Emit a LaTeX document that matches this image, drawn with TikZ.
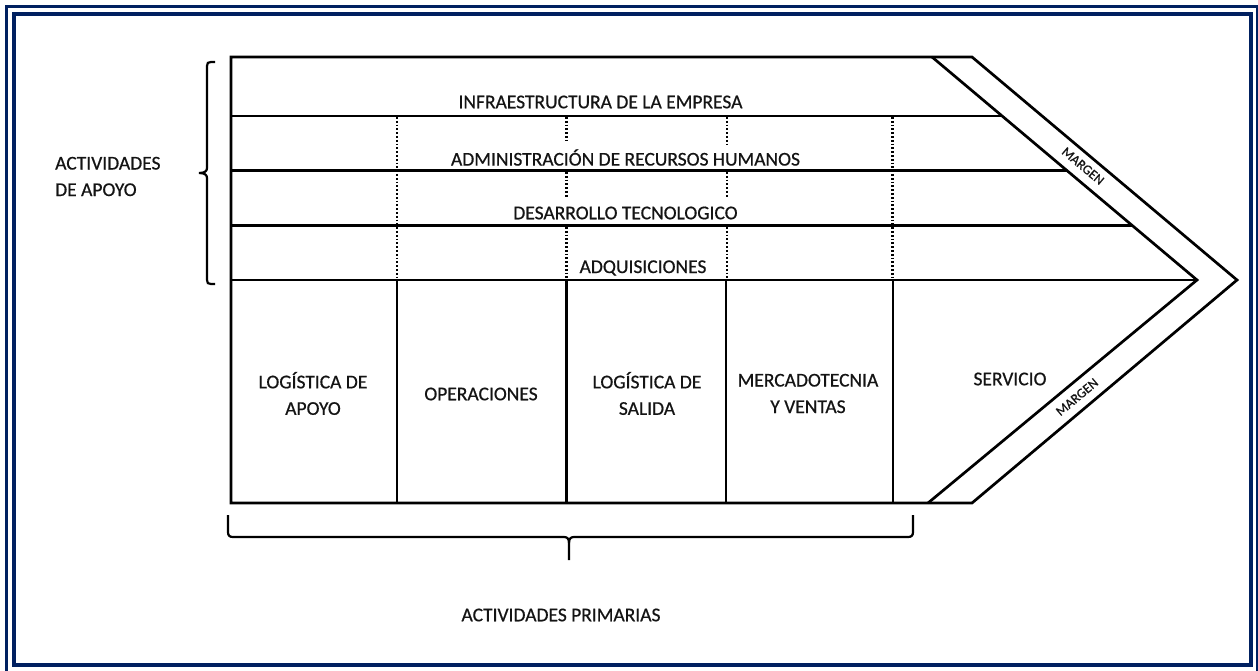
\documentclass[tikz,border=0pt]{standalone}
\usepackage{fontspec}
\setmainfont[FakeBold=0.6]{Carlito}
\newfontfamily\heavyfont[FakeBold=0.6]{Carlito}
\usetikzlibrary{calc}
\definecolor{navy}{RGB}{0,32,96}
\definecolor{ink}{RGB}{20,20,20}
\tikzset{
  frameline/.style={draw=navy},
  mainline/.style={draw=black,line width=2.7pt},
  dotline/.style={draw=black,line width=2.3pt,dash pattern=on 1.8pt off 2pt},
  lbl/.style={inner sep=0pt,text=ink,font=\heavyfont\fontsize{19.5}{26.5}\selectfont,align=center},
  mlbl/.style={inner sep=0pt,text=ink,font=\heavyfont\fontsize{13.5}{15}\selectfont},
}
\begin{document}
\begin{tikzpicture}[x=1pt,y=-1pt,line join=miter]
\useasboundingbox (0,0) rectangle (1258,671);
\fill[white] (0,0) rectangle (1258,671);
% frame
\draw[frameline,line width=3.4pt] (6.6,6.6) rectangle (1257.5,675);
\draw[frameline,line width=4pt] (14,13.7) rectangle (1251,665);
% key points
\coordinate (TL) at (231,57);
\coordinate (BL) at (231,503);
\coordinate (TO) at (972,57);
\coordinate (TI) at (932,57);
\coordinate (TipO) at (1237,280);
\coordinate (TipI) at (1197,280);
\coordinate (BI) at (928,503);
\coordinate (BO) at (972,503);
% outline
\draw[mainline] (TO) -- (TL) -- (BL) -- (BO) -- (TipO) -- cycle;
\draw[mainline] (TI) -- (TipI) -- (BI);
% support rows
\coordinate (r1a) at (231,116);   \coordinate (r1b) at (1002.3,116);
\coordinate (r2a) at (231,170.5); \coordinate (r2b) at (1067.2,170.5);
\coordinate (r3a) at (231,225.5); \coordinate (r3b) at (1132.7,225.5);
\coordinate (r4a) at (231,280);
\draw[mainline] (r1a) -- (r1b);
\draw[mainline] (r2a) -- (r2b);
\draw[mainline] (r3a) -- (r3b);
\draw[mainline] (r4a) -- (TipI);
% dotted verticals
\draw[dotline] (397,117) -- (397,279);
\draw[dotline] (566.5,117) -- (566.5,141);
\draw[dotline] (566.5,172) -- (566.5,197);
\draw[dotline] (566.5,227) -- (566.5,279);
\draw[dotline] (727,117) -- (727,145);
\draw[dotline] (727,172) -- (727,198);
\draw[dotline] (727,227) -- (727,279);
\draw[dotline] (892.5,117) -- (892.5,279);
% primary columns
\draw[mainline] (397,280) -- (397,503);
\draw[mainline] (566.5,280) -- (566.5,503);
\draw[mainline] (726,280) -- (726,503);
\draw[mainline] (893,280) -- (893,503);
% support labels
\node[lbl] (infra) at (600.5,102) {INFRAESTRUCTURA DE LA EMPRESA};
\node[lbl] (rrhh) at (625.5,157.5) {ADMINISTRACIÓN DE RECURSOS HUMANOS};
\node[lbl] (tec) at (625.5,213) {DESARROLLO TECNOLOGICO};
\node[lbl] (adq) at (643,268) {ADQUISICIONES};
% primary labels
\node[lbl] (log1) at (313,393.5) {LOGÍSTICA DE\\APOYO};
\node[lbl] (ops) at (481,394) {OPERACIONES};
\node[lbl] (log2) at (647,393.5) {LOGÍSTICA DE\\SALIDA};
\node[lbl] (merc) at (808,393.5) {MERCADOTECNIA\\Y VENTAS};
\node[lbl] (serv) at (1010,379) {SERVICIO};
% margin labels
\node[mlbl,rotate=-40] (m1) at (1083,166) {MARGEN};
\node[mlbl,rotate=40] (m2) at (1077,397) {MARGEN};
% left brace
\draw[line width=2.2pt] (215,62) -- (211,62) .. controls (208,62) and (207,63) .. (207,66)
  -- (207,168) .. controls (207,171) and (205,173) .. (199,173)
  .. controls (205,173) and (207,175) .. (207,178)
  -- (207,280) .. controls (207,283) and (208,284) .. (211,284) -- (215,284);
\node[lbl,align=left,anchor=west] (apoyo) at (55,176.5) {ACTIVIDADES\\DE APOYO};
% bottom brace
\draw[line width=2.2pt] (228,515) -- (228,532) .. controls (228,535.5) and (229.5,537) .. (233,537)
  -- (564,537) .. controls (567.5,537) and (569,539) .. (569,543) -- (569,560);
\draw[line width=2.2pt] (569,543) .. controls (569,539) and (570.5,537) .. (574,537)
  -- (908,537) .. controls (911.5,537) and (913,535.5) .. (913,532) -- (913,515);
\node[lbl] (prim) at (561,615) {ACTIVIDADES PRIMARIAS};
\end{tikzpicture}
\end{document}
